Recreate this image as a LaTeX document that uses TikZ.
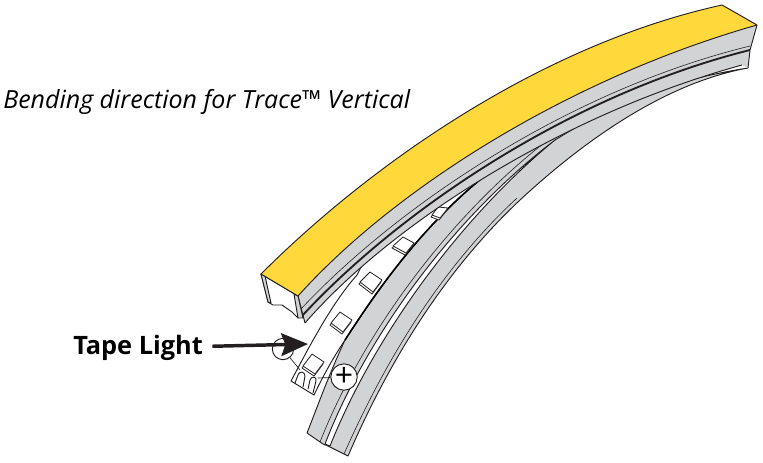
\documentclass[tikz,border=0pt]{standalone}
\usepackage{fontspec}
\setmainfont{Open Sans}
\usetikzlibrary{arrows.meta}
\definecolor{tapeyellow}{HTML}{FFD93B}
\definecolor{bodygray}{HTML}{D1D3D4}
\definecolor{inkdark}{HTML}{231F20}
\tikzset{
	outline/.style={draw=inkdark,line width=0.7pt,line join=round},
	thinline/.style={draw=inkdark,line width=0.45pt},
	ledbox/.style={draw=inkdark,fill=white,line width=0.6pt,line join=round},
	polarity/.style={circle,draw=inkdark,fill=white,line width=0.7pt,inner sep=0pt},
	leader/.style={draw=inkdark,line width=0.5pt},
}
\begin{document}
\begin{tikzpicture}[x=0.75pt,y=-0.75pt]
		\useasboundingbox (0,0) rectangle (763,462);
		\path[fill=bodygray,outline] (307,433) .. controls (318,405) and (330,372) .. (345,340)
		.. controls (385,278) and (450,185) .. (550,133)
		.. controls (590,110) and (670,80) .. (748,68)
		.. controls (670,82) and (590,135) .. (520,200)
		.. controls (440,275) and (385,370) .. (348,456)
		-- (328,446) -- (323,444) -- cycle;
		\path[fill=white,outline] (325,444) .. controls (365,340) and (450,220) .. (555,140)
		.. controls (455,222) and (371,343) .. (330,446) -- cycle;
		\draw[outline] (555,140) -- (583,123);
		\draw[thinline] (320,442) .. controls (360,340) and (445,218) .. (553,136);
		\draw[thinline] (344,454) .. controls (382,368) and (437,272) .. (517,198);
		\path[fill=white,outline] (291,381) .. controls (305,355) and (330,305) .. (357,275)
		-- (380,230) -- (545,120) -- (550,133)
		.. controls (450,185) and (385,278) .. (345,340)
		.. controls (333,358) and (323,376) .. (314,395) -- cycle;
		\draw[draw=black,line width=1.2pt] (345,340) .. controls (385,278) and (450,185) .. (550,133);
		\foreach \pa/\pb/\pc/\pd in {{303,366}/{312,354}/{324,362}/{315,374},{331,323}/{340,312}/{352,320}/{343,332},{360,282}/{370,272}/{382,280}/{373,292},{393,246}/{403,237}/{414,243}/{406,253},{432,215}/{438,207}/{448,208}/{440,218}}{
			\draw[ledbox] ([shift={(-1,2)}]\pa) -- ([shift={(-1,2)}]\pb) -- ([shift={(-1,2)}]\pc) -- ([shift={(-1,2)}]\pd) -- cycle;
			\draw[ledbox] (\pa) -- (\pb) -- (\pc) -- (\pd) -- cycle;
		}
		\draw[outline] (295,383) -- (298,375) .. controls (299,371) and (305,371) .. (305,376) -- (303,387);
		\draw[outline] (308,389) -- (310,380) .. controls (311,376) and (317,376) .. (316,381) -- (313,393);
		\fill[bodygray] (298,296) .. controls (395,188) and (570,78) .. (757,25) -- (750,50) -- (748,68) -- (742,65)
		.. controls (560,115) and (390,225) .. (305,323) -- cycle;
		\draw[outline] (742,65) .. controls (560,115) and (390,225) .. (305,323);
		\draw[outline] (298,296) -- (305,323);
		\draw[outline] (757,25) -- (750,50) -- (748,68);
		\draw[draw=inkdark,line width=1.4pt] (302,316) .. controls (400,210) and (570,95) .. (750,50);
		\draw[thinline] (300,310) .. controls (398,205) and (570,90) .. (750,46);
		\path[fill=white,outline] (261,274) -- (268,302) -- (273,305) -- (282,305) -- (292,312) -- (298,318) -- (298,296) -- cycle;
		\path[fill=bodygray,outline] (261,274) -- (265,276) -- (271,303) -- (268,302) -- cycle;
		\path[fill=bodygray,outline] (294,294) -- (298,296) -- (303,318) -- (298,318) -- cycle;
		\path[fill=tapeyellow,outline] (261,274) .. controls (370,165) and (540,45) .. (722,5)
		-- (757,25) .. controls (570,78) and (395,188) .. (298,296) -- cycle;
		\node[anchor=base west,inner sep=0pt,font=\fontsize{18.75pt}{20pt}\itshape\selectfont] (caption) at (3,108) {Bending direction for Trace™ Vertical};
		\node[anchor=west,inner sep=0pt,font=\fontsize{19pt}{20pt}\bfseries\selectfont] (tapelabel) at (73,348) {Tape Light};
		\node[polarity,minimum size=16pt,font=\fontsize{20pt}{20pt}\bfseries\selectfont] (minus) at (283,349) {−};
		\node[polarity,minimum size=18.5pt,font=\fontsize{24pt}{24pt}\selectfont] (plus) at (344,377) {+};
		\coordinate (tapetip) at (308,344);
		\coordinate (minuspad) at (300,370);
		\coordinate (pluspad) at (318,378);
		\draw[leader] (minus) -- (minuspad);
		\draw[leader] (plus) -- (pluspad);
		\draw[-{Stealth[length=20pt,width=17pt,inset=3pt]},draw=inkdark,fill=inkdark,line width=2.6pt,shorten <=7pt] (tapelabel) -- (tapetip);
\end{tikzpicture}
\end{document}
